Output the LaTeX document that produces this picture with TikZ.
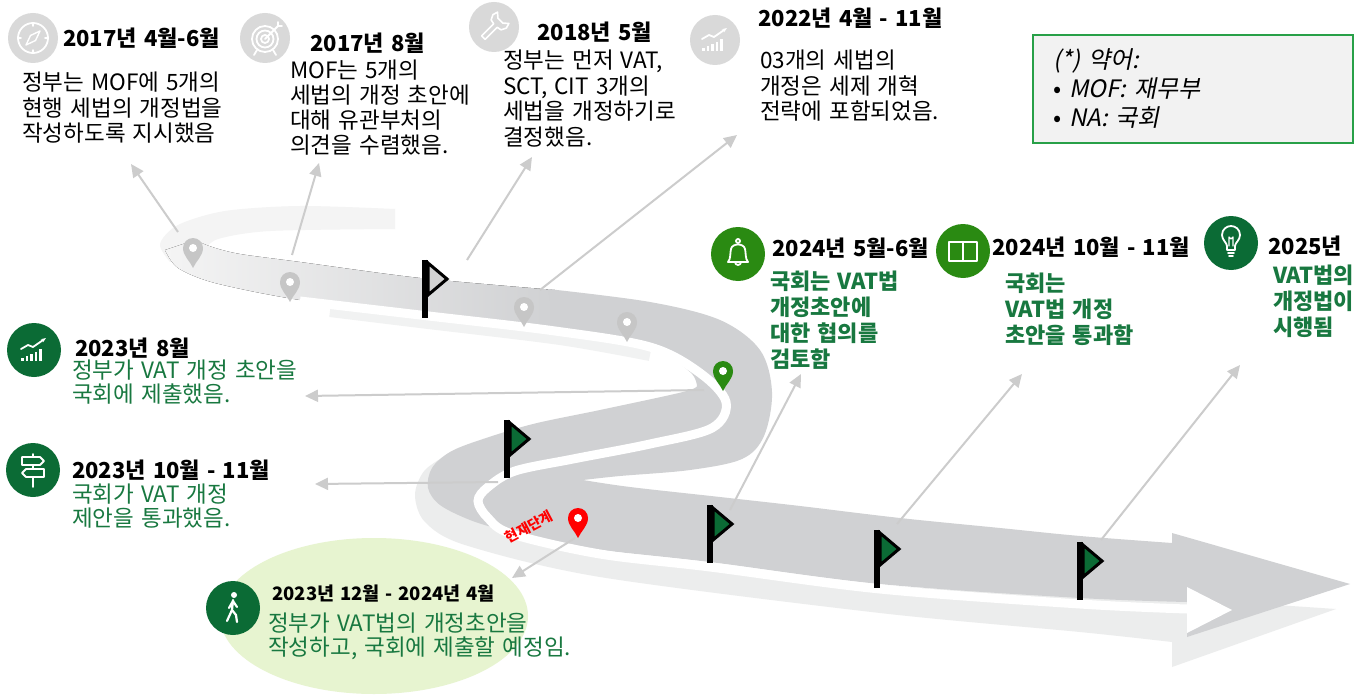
\documentclass[tikz,border=0pt]{standalone}
\usepackage{fontspec}
\setmainfont[WordSpace=1.4]{Noto Sans CJK KR}
\newfontfamily\slantfont[FakeSlant=0.2, WordSpace=1.4]{Noto Sans CJK KR}
\usepackage{xcolor}
\definecolor{roadgray}{RGB}{208,209,211}
\definecolor{roadfaint}{RGB}{244,244,244}
\definecolor{shadegray}{RGB}{236,237,237}
\definecolor{icongray}{RGB}{217,217,217}
\definecolor{linkgray}{RGB}{204,204,204}
\definecolor{pingray}{RGB}{198,198,198}
\definecolor{flaggray}{RGB}{210,210,210}
\definecolor{forest}{RGB}{11,107,53}
\definecolor{leaf}{RGB}{42,138,18}
\definecolor{leaftext}{RGB}{24,120,64}
\definecolor{paleleaf}{RGB}{231,244,208}
\definecolor{boxgreen}{RGB}{40,160,72}
\definecolor{boxfill}{RGB}{242,242,242}
\definecolor{pinred}{RGB}{255,0,0}
\usepackage{tikz}
\usetikzlibrary{arrows.meta}

\tikzset{
  pics/mappin/.style={code={
    \fill[#1] (0,0) .. controls (-3,-7) and (-10,-12) .. (-10,-20)
      arc[start angle=180, end angle=360, radius=10]
      .. controls (10,-12) and (3,-7) .. (0,0) -- cycle;
    \fill[white] (0,-20) circle[radius=4];
  }},
  pics/roadflag/.style={code={
    \draw[line width=6] (0,0) -- (0,58);
    \draw[fill=#1, line width=3, line join=miter] (3,3) -- (22,19) -- (3,35) -- cycle;
  }}
}

\begin{document}
\begin{tikzpicture}[x=1pt, y=-1pt,
  link/.style={draw=linkgray, line width=2, -{Triangle[length=13pt, width=12pt]}},
  headline/.style={font=\bfseries\fontsize{22}{26}\selectfont, inner sep=0, anchor=north west},
  bodytext/.style={font=\fontsize{22.5}{25.5}\selectfont, inner sep=0, align=left, anchor=north west},
  leafbody/.style={bodytext, text=leaftext, font=\fontsize{22.5}{24}\selectfont},
  leafbold/.style={bodytext, text=leaftext, font=\bfseries\fontsize{22}{26}\selectfont},
  grayicon/.style={circle, fill=icongray, minimum size=50, inner sep=0},
  forestdisc/.style={circle, fill=forest, minimum size=54, inner sep=0},
  leafdisc/.style={circle, fill=leaf, minimum size=54, inner sep=0},
  glyph/.style={white, line width=1.8, line cap=round, line join=round}]
\fill[white] (0,0) rectangle (1359,695);
\useasboundingbox (0,0) rectangle (1359,695);

\fill[paleleaf] (374,616) ellipse[x radius=154, y radius=78];

% shadow under the road
\draw[roadfaint!70!shadegray, line width=12] plot[smooth] coordinates {(330,311) (420,322) (560,339) (650,355)};
\fill[shadegray] plot[smooth] coordinates {(455,450) (425,470) (415,495) (425,522) (465,545) (600,577) (880,613) (1080,632) (1172,642)}
  -- (1172,667) -- (1336,609) -- (1172,598)
  -- plot[smooth] coordinates {(1172,598) (880,585) (600,550) (500,530) (470,480)} -- cycle;

% far end and upper band of the road
\fill[roadfaint] plot[smooth] coordinates {(395,209) (300,206) (225,211) (178,225) (160,244) (170,262)}
  -- (205,250) -- plot[smooth] coordinates {(205,250) (218,239) (270,231) (395,229)} -- cycle;
\fill[left color=roadfaint, right color=roadgray]
  plot[smooth] coordinates {(165,250) (178,268) (215,283) (300,300) (420,314) (555,331)}
  -- (555,290) -- plot[smooth] coordinates {(555,290) (420,278) (300,262) (240,254) (212,247) (195,240)} -- cycle;

% winding part and arrow
\fill[roadgray] plot[smooth, tension=0.55] coordinates {(548,289) (650,302) (720,320) (760,350) (772,392) (764,436) (742,459) (690,470) (620,476) (583,480)}
  -- plot[smooth, tension=0.55] coordinates {(583,480) (630,487) (720,497) (800,506) (900,518) (1000,528) (1080,536) (1172,543)}
  -- (1172,533) -- (1350,584) -- (1187,637) -- (1187,602)
  -- plot[smooth, tension=0.55] coordinates {(1187,602) (1080,598) (880,584) (710,562) (600,550) (540,541) (505,531) (470,520) (440,505) (428,488) (432,468) (450,452) (480,440) (533,424) (600,410) (683,392) (697,386)}
  -- plot[smooth] coordinates {(697,386) (690,372) (650,347) (555,331)} -- cycle;

% white edge of the road
\draw[white, line width=9] plot[smooth, tension=0.55] coordinates {(300,301) (420,315) (555,331) (650,347) (700,373) (726,402) (712,428) (650,444) (573,459) (515,471) (488,487) (478,501) (488,518) (512,534) (600,554) (710,567) (880,589) (1080,604) (1187,609)};
\fill[white] (1187,587) -- (1232,610) -- (1187,633) -- cycle;

% connectors
\coordinate (s1) at (178,232);  \coordinate (e1) at (131,164);
\coordinate (s2) at (292,255);  \coordinate (e2) at (319,163);
\coordinate (s3) at (467,260);  \coordinate (e3) at (532,157);
\coordinate (s4) at (540,290);  \coordinate (e4) at (737,135);
\coordinate (s5) at (704,390);  \coordinate (e5) at (305,396);
\coordinate (s6) at (498,482);  \coordinate (e6) at (315,484);
\coordinate (s7) at (575,538);  \coordinate (e7) at (512,578);
\coordinate (s8) at (730,510);  \coordinate (e8) at (801,374);
\coordinate (s9) at (897,524);  \coordinate (e9) at (1022,374);
\coordinate (s10) at (1101,540); \coordinate (e10) at (1240,365);
\foreach \n in {1,...,10} \draw[link] (s\n) -- (e\n);

% pins and flags on the road
\coordinate (pinA) at (193,268);
\coordinate (pinB) at (290,302);
\coordinate (pinC) at (524,327);
\coordinate (pinD) at (627,342);
\coordinate (pinE) at (723,391);
\coordinate (pinF) at (578,538);
\pic at (pinA) {mappin=pingray};
\pic at (pinB) {mappin=pingray};
\pic at (pinC) {mappin=pingray};
\pic at (pinD) {mappin=pingray};
\pic at (pinE) {mappin=leaf};
\pic at (pinF) {mappin=pinred};
\pic at (425,260) {roadflag=flaggray};
\pic at (507,420) {roadflag=forest};
\pic at (710,505) {roadflag=forest};
\pic at (877,530) {roadflag=forest};
\pic at (1080,542) {roadflag=forest};
\node[text=pinred, rotate=28, font=\bfseries\fontsize{14}{14}\selectfont, inner sep=0] (now) at (529,527) {현재단계};

% upper milestones
\node[grayicon] (ic1) at (33,38) {};
\begin{scope}[shift={(ic1.center)}]
  \draw[glyph] (0,0) circle[radius=15];
  \draw[glyph] (0,-15) -- (0,-12) (0,15) -- (0,12) (-15,0) -- (-12,0) (15,0) -- (12,0);
  \draw[glyph, line width=1.4] (7,-7) -- (2.5,2.5) -- (-7,7) -- (-2.5,-2.5) -- cycle;
\end{scope}
\node[headline] (h1) at (63,28) {2017년 4월-6월};
\node[bodytext] (b1) at (22,72) {정부는 MOF에 5개의\\현행 세법의 개정법을\\작성하도록 지시했음};

\node[grayicon] (ic2) at (265,38) {};
\begin{scope}[shift={(ic2.center)}]
  \draw[glyph] (0,1) circle[radius=13] (0,1) circle[radius=8.5] (0,1) circle[radius=4];
  \draw[glyph] (0,1) -- (13,-12) (13,-12) -- (13,-16) (13,-12) -- (17,-12);
  \draw[glyph] (-8,12) -- (-11,17) (8,12) -- (11,17);
\end{scope}
\node[headline] (h2) at (310,33) {2017년 8월};
\node[bodytext, font=\fontsize{22.5}{25}\selectfont] (b2) at (290,60) {MOF는 5개의\\세법의 개정 초안에\\대해 유관부처의\\의견을 수렴했음.};

\node[grayicon] (ic3) at (494,27) {};
\begin{scope}[shift={(ic3.center)}, rotate=45]
  \draw[glyph, line width=1.6] (-15,-2.5) -- (2,-2.5) -- (3,-7) -- (8,-9.5) -- (13,-8) -- (9,-3.5) -- (9,3.5) -- (13,8) -- (8,9.5) -- (3,7) -- (2,2.5) -- (-15,2.5) -- cycle;
\end{scope}
\node[headline] (h3) at (537,22) {2018년 5월};
\node[bodytext] (b3) at (503,50) {정부는 먼저 VAT,\\SCT, CIT 3개의\\세법을 개정하기로\\결정했음.};

\node[grayicon] (ic4) at (715,40) {};
\begin{scope}[shift={(ic4.center)}]
  \foreach \i/\h in {0/3,1/5,2/7,3/9,4/12} \fill[white] (-13+\i*4.5,11) rectangle ++(2.6,-\h);
  \draw[glyph, -{Stealth[length=5pt]}] (-13,-1) -- (-6,-5) -- (-1,-3) -- (12,-12);
\end{scope}
\node[headline] (h4) at (758,8) {2022년 4월 - 11월};
\node[bodytext] (b4) at (760,50) {03개의 세법의\\개정은 세제 개혁\\전략에 포함되었음.};

% legend
\node[draw=boxgreen, line width=2, fill=boxfill, anchor=north west, minimum height=108, text width=280, inner xsep=20, align=left, font=\slantfont\fontsize{24}{29}\selectfont] (legend) at (1032,34) {(*) 약어:\\{\normalfont •}\hspace{8pt}MOF: 재무부\\{\normalfont •}\hspace{8pt}NA: 국회};

% left milestones
\node[forestdisc] (ic5) at (34,350) {};
\begin{scope}[shift={(ic5.center)}]
  \foreach \i/\h in {0/3,1/5,2/7,3/9,4/12} \fill[white] (-13+\i*4.5,11) rectangle ++(2.6,-\h);
  \draw[glyph, -{Stealth[length=5pt]}] (-13,-1) -- (-6,-5) -- (-1,-3) -- (12,-12);
\end{scope}
\node[headline] (h5) at (75,338) {2023년 8월};
\node[leafbody] (b5) at (72,360) {정부가 VAT 개정 초안을\\국회에 제출했음.};

\node[forestdisc] (ic6) at (33,470) {};
\begin{scope}[shift={(ic6.center)}]
  \draw[glyph] (-11,-13) -- (7,-13) -- (11,-9) -- (7,-5) -- (-11,-5) -- cycle;
  \draw[glyph] (11,-1) -- (-7,-1) -- (-11,3) -- (-7,7) -- (11,7) -- cycle;
  \draw[glyph] (0,-16) -- (0,-13) (0,-5) -- (0,-1) (0,7) -- (0,17);
\end{scope}
\node[headline] (h6) at (72,460) {2023년 10월 - 11월};
\node[leafbody] (b6) at (72,484) {국회가 VAT 개정\\제안을 통과했음.};

\node[forestdisc] (ic7) at (233,608) {};
\begin{scope}[shift={(ic7.center)}]
  \fill[white] (1,-13) circle[radius=3];
  \draw[glyph, line width=2.2] (0,-8) -- (-1,2) -- (-6,13) (-1,2) -- (3,7) -- (4,14) (0,-7) -- (-4,0) (0,-7) -- (4,-1);
\end{scope}
\node[headline, font=\bfseries\fontsize{18.5}{22}\selectfont] (h7) at (272,585) {2023년 12월 - 2024년 4월};
\node[leafbody] (b7) at (268,613) {정부가 VAT법의 개정초안을\\작성하고, 국회에 제출할 예정임.};

% right milestones
\node[leafdisc] (ic8) at (738,254) {};
\begin{scope}[shift={(ic8.center)}]
  \draw[glyph] (0,-13) circle[radius=2];
  \draw[glyph] (-10,8) .. controls (-7,5) and (-8,-2) .. (-7,-5) .. controls (-6,-11) and (6,-11) .. (7,-5) .. controls (8,-2) and (7,5) .. (10,8) -- cycle;
  \draw[glyph] (-3,8) arc[start angle=180, end angle=0, radius=3];
\end{scope}
\node[headline] (h8) at (772,238) {2024년 5월-6월};
\node[leafbold] (b8) at (770,271) {국회는 VAT법\\개정초안에\\대한 협의를\\검토함};

\node[leafdisc] (ic9) at (963,251) {};
\begin{scope}[shift={(ic9.center)}]
  \draw[glyph, line width=2.2] (-14,-9) rectangle (14,10);
  \draw[glyph, line width=2.2] (0,-9) -- (0,10);
\end{scope}
\node[headline] (h9) at (992,237) {2024년 10월 - 11월};
\node[leafbold] (b9) at (1005,273) {국회는\\VAT법 개정\\초안을 통과함};

\node[forestdisc] (ic10) at (1231,243) {};
\begin{scope}[shift={(ic10.center)}]
  \draw[glyph] (-4,7) -- (-4,3) .. controls (-4,0) and (-9,-3) .. (-9,-8) .. controls (-9,-14) and (-4,-17) .. (0,-17) .. controls (4,-17) and (9,-14) .. (9,-8) .. controls (9,-3) and (4,0) .. (4,3) -- (4,7) -- cycle;
  \draw[glyph] (-3,10) -- (3,10) (-2,13) -- (2,13);
  \draw[glyph, line width=1.2] (-2,3) -- (-2,-6) -- (0,-4) -- (2,-6) -- (2,3);
\end{scope}
\node[headline] (h10) at (1268,236) {2025년};
\node[leafbold] (b10) at (1273,265) {VAT법의\\개정법이\\시행됨};
\end{tikzpicture}
\end{document}
